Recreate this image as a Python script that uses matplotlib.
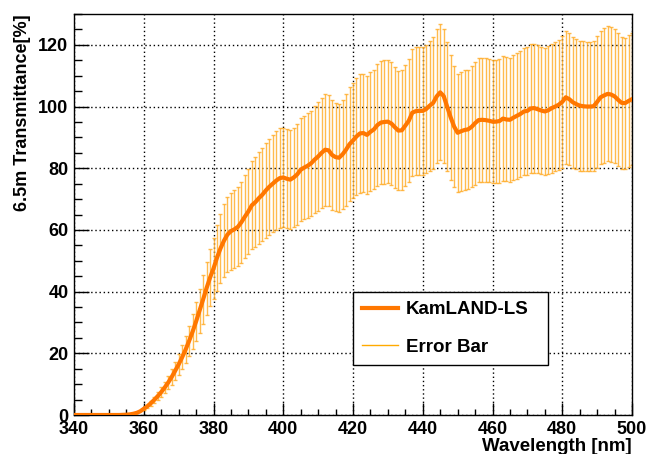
import matplotlib
matplotlib.use("Agg")
import matplotlib.pyplot as plt
from matplotlib.lines import Line2D
from matplotlib.ticker import MultipleLocator
import numpy as np

# wavelength grid [nm] and 6.5 m transmittance [%]
wavelength = np.arange(340, 501)
transmittance = [
    0, 0, 0, 0, 0, 0, 0, 0, 0, 0,
    0, 0, 0, 0, 0.05, 0.1, 0.2, 0.4, 0.7, 1.2,
    2.0, 2.8, 3.8, 4.9, 6.1, 7.4, 8.9, 10.5, 12.3, 14.3,
    16.4, 18.7, 21.2, 24.0, 27.0, 30.3, 33.8, 37.4, 41.1, 44.5,
    47.5, 51.0, 54.0, 56.5, 58.5, 59.6, 60.2, 61.0, 62.5, 64.3,
    66.0, 68.0, 69.0, 70.3, 71.4, 72.8, 74.0, 75.0, 76.0, 76.8,
    77.0, 76.6, 76.3, 77.0, 78.0, 79.5, 80.2, 80.8, 81.6, 82.8,
    83.8, 85.0, 86.0, 85.8, 84.3, 83.6, 83.4, 84.5, 86.0, 87.8,
    89.0, 90.3, 91.3, 91.4, 90.8, 91.8, 92.6, 94.0, 94.8, 95.0,
    95.1, 94.5, 93.3, 92.2, 92.3, 93.8, 95.4, 98.0, 98.5, 98.6,
    98.6, 99.2, 100.3, 101.2, 103.3, 104.6, 103.4, 100.0, 96.5, 93.5,
    91.5, 92.0, 92.4, 92.6, 93.4, 94.6, 95.6, 95.7, 95.6, 95.4,
    95.1, 95.1, 95.3, 96.1, 95.8, 95.7, 96.4, 97.0, 97.6, 98.4,
    98.6, 99.4, 99.5, 99.1, 98.7, 98.4, 98.8, 99.5, 100.0, 100.6,
    101.5, 103.0, 102.4, 101.4, 100.8, 100.3, 100.1, 100.0, 100.0, 100.1,
    101.5, 103.0, 103.6, 104.1, 103.9, 103.3, 102.2, 101.2, 101.1, 101.8,
    102.4,
]

# error bars are drawn from 360 nm on
err_start = 360
errors = [
    0.4, 0.6, 0.8, 1.0, 1.3, 1.6, 1.9, 2.2, 2.6, 3.0,
    3.4, 3.9, 4.5, 5.0, 5.7, 6.4, 7.1, 7.9, 8.6, 9.3,
    10.0, 10.7, 11.3, 11.9, 12.3, 12.5, 12.6, 12.8, 13.1, 13.5,
    13.9, 14.3, 14.5, 14.8, 15.0, 15.3, 15.5, 15.8, 16.0, 16.1,
    16.2, 16.1, 16.0, 16.2, 16.4, 16.7, 16.8, 17.0, 17.1, 17.4,
    17.6, 17.9, 18.1, 18.0, 17.7, 17.6, 17.5, 17.7, 18.1, 18.4,
    18.7, 19.0, 19.2, 19.2, 19.1, 19.3, 19.4, 19.7, 19.9, 20.0,
    20.0, 19.8, 19.6, 19.4, 19.4, 19.7, 20.0, 20.6, 20.7, 20.7,
    20.7, 20.8, 21.1, 21.3, 21.7, 22.0, 21.7, 21.0, 20.3, 19.6,
    19.2, 19.3, 19.4, 19.4, 19.6, 19.9, 20.1, 20.1, 20.1, 20.0,
    20.0, 20.0, 20.0, 20.2, 20.1, 20.1, 20.2, 20.4, 20.5, 20.7,
    20.7, 20.9, 20.9, 20.8, 20.7, 20.7, 20.7, 20.9, 21.0, 21.1,
    21.3, 21.6, 21.5, 21.3, 21.2, 21.1, 21.0, 21.0, 21.0, 21.0,
    21.3, 21.6, 21.8, 21.9, 21.8, 21.7, 21.5, 21.3, 21.2, 21.4,
    21.5,
]

line_color = '#ff7700'
bar_color = '#ffaa22'

plt.rcParams['font.family'] = ['Liberation Sans', 'DejaVu Sans']
plt.rcParams['font.weight'] = 'bold'

fig = plt.figure(figsize=(6.46, 4.54), dpi=100)
ax = fig.add_axes([74 / 646, 39 / 454, 558 / 646, 401 / 454])

y = np.array(transmittance)
mask = wavelength >= err_start
ax.errorbar(wavelength[mask], y[mask], yerr=errors, fmt='none', ecolor=bar_color,
            elinewidth=1.0, capsize=1.5, capthick=1.0, alpha=0.8, zorder=2)
ax.plot(wavelength, y, color=line_color, linewidth=3.0, zorder=3)

ax.set_xlim(340, 500)
ax.set_ylim(0, 130)

ax.xaxis.set_major_locator(MultipleLocator(20))
ax.xaxis.set_minor_locator(MultipleLocator(5))
ax.yaxis.set_major_locator(MultipleLocator(20))
ax.yaxis.set_minor_locator(MultipleLocator(5))
ax.tick_params(axis='both', which='both', direction='in', labelsize=13, width=1.0)
ax.tick_params(axis='y', which='major', length=11, pad=4)
ax.tick_params(axis='y', which='minor', length=5.5)
ax.tick_params(axis='x', which='major', length=9, pad=4)
ax.tick_params(axis='x', which='minor', length=4.5)

ax.grid(True, which='major', color='black', linestyle=(0, (1, 2)), linewidth=1.0)
for s in ax.spines.values():
    s.set_linewidth(1.0)

# x title sits right-aligned under the axis, baseline ~35 px below it
ax.set_xlabel('Wavelength [nm]', fontsize=13.5, fontweight='bold')
ax.xaxis.set_label_coords(1.0, -36 / 401)
ax.xaxis.label.set_ha('right')
ax.xaxis.label.set_va('baseline')
ax.set_ylabel('6.5m Transmittance[%]', fontsize=13, fontweight='bold', loc='top', labelpad=5)

handles = [Line2D([], [], color=line_color, linewidth=3.0),
           Line2D([], [], color='#ffaa00', linewidth=1.0)]
leg = ax.legend(handles, ['KamLAND-LS', 'Error Bar'], loc='lower left',
                bbox_to_anchor=(0.5, 0.1247, 0.349, 0.187), mode='expand',
                fancybox=False, edgecolor='black', framealpha=1, fontsize=13.5,
                handlelength=1.9, handletextpad=0.45, labelspacing=1.1, borderpad=0.48,
                borderaxespad=0)
leg.get_frame().set_linewidth(1.0)

fig.savefig('out.png', dpi=100)
